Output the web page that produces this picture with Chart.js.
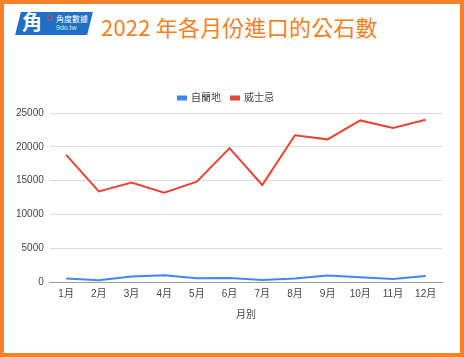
<!DOCTYPE html>
<html><head><meta charset="utf-8">
<script src="https://cdn.jsdelivr.net/npm/chart.js@4/dist/chart.umd.min.js"></script>
<style>
html,body{margin:0;padding:0;background:#fff;}
#frame{position:absolute;left:0;top:0;width:464px;height:357px;box-sizing:border-box;border:4px solid #f7812a;background:#fff;overflow:hidden;}
#title{position:absolute;left:97px;top:6px;font-family:"Noto Sans CJK TC","Noto Sans",sans-serif;font-size:22px;color:#f47f24;white-space:nowrap;letter-spacing:0.2px;}
#logo{position:absolute;left:14px;top:8px;width:72px;height:23px;background:#1f6fc4;transform:skewX(-14deg);}
#logoGlyph{position:absolute;left:18px;top:6px;width:18px;height:24px;font-family:"Noto Sans CJK TC",sans-serif;font-size:20px;line-height:24px;color:#fff;font-weight:bold;}
#logoT1{position:absolute;left:52px;top:10px;font-family:"Noto Sans CJK TC",sans-serif;font-size:8px;color:#fff;line-height:9px;}
#logoT2{position:absolute;left:52px;top:20px;font-family:"Liberation Sans",Arial,sans-serif;font-size:7px;color:#dfe8f5;line-height:8px;}
#dot{position:absolute;left:43px;top:11px;width:4px;height:4px;border:1.5px solid #e8453c;border-radius:50%;}
#wrap{position:absolute;left:0;top:71px;width:456px;height:246px;}
</style></head>
<body>
<div id="frame">
  <div id="logo"></div>
  <div id="logoGlyph">角</div>
  <div id="dot"></div>
  <div id="logoT1">角度數據</div>
  <div id="logoT2">9do.tw</div>
  <div id="title">2022 年各月份進口的公石數</div>
  <div id="wrap"><canvas id="c"></canvas></div>
</div>
<script>
const months = ["1月","2月","3月","4月","5月","6月","7月","8月","9月","10月","11月","12月"];
const brandy = [500, 250, 800, 1000, 550, 600, 300, 500, 950, 700, 450, 900];
const whisky = [18800, 13400, 14700, 13200, 14850, 19800, 14350, 21700, 21100, 23900, 22800, 24000];
const seriesNames = ["自蘭地", "威士忌"];
const yTicks = [0, 5000, 10000, 15000, 20000, 25000];

const cjk = '"Liberation Sans", Arial, "Noto Sans CJK TC", sans-serif';
new Chart(document.getElementById('c'), {
  type: 'line',
  data: {
    labels: months,
    datasets: [
      {label: seriesNames[0], data: brandy, borderColor: '#4285f4', backgroundColor: '#4285f4', borderWidth: 2, pointRadius: 0, tension: 0},
      {label: seriesNames[1], data: whisky, borderColor: '#ea4335', backgroundColor: '#ea4335', borderWidth: 2, pointRadius: 0, tension: 0}
    ]
  },
  options: {
    responsive: true,
    maintainAspectRatio: false,
    animation: false,
    layout: {padding: {left: 6, right: 18, top: 8, bottom: 0}},
    plugins: {
      legend: {
        position: 'top',
        labels: {boxWidth: 8, boxHeight: 3, font: {family: cjk, size: 10}, color: '#444', padding: 10}
      },
      tooltip: {enabled: false}
    },
    scales: {
      x: {
        offset: true,
        grid: {display: false, drawTicks: false},
        border: {display: true, color: '#999', width: 1},
        ticks: {font: {family: cjk, size: 10}, color: '#444', padding: 6, maxRotation: 0, autoSkip: false},
        title: {display: true, text: '月別', font: {family: cjk, size: 10}, color: '#444', padding: {top: 3, bottom: 0}}
      },
      y: {
        min: 0, max: 25000,
        afterBuildTicks: (s) => { s.ticks = yTicks.map(v => ({value: v})); },
        grid: {color: (ctx) => ctx.tick && ctx.tick.value === 0 ? '#999' : '#ddd', drawTicks: false},
        border: {display: false},
        ticks: {font: {family: cjk, size: 10}, color: '#444', padding: 6, callback: (v) => String(v)}
      }
    }
  }
});
</script>
</body></html>
